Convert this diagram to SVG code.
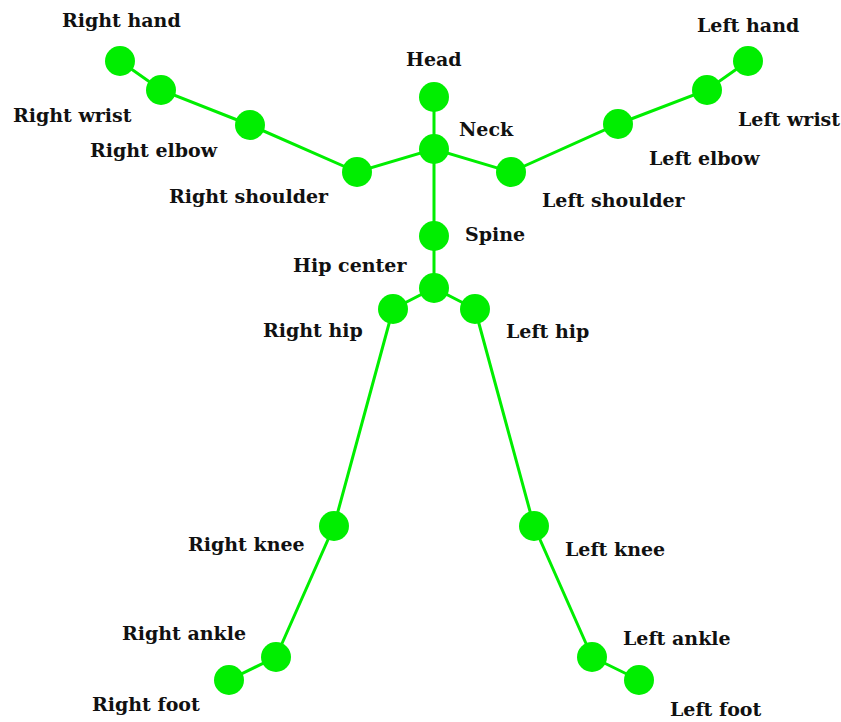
<svg xmlns="http://www.w3.org/2000/svg" width="841" height="722" viewBox="0 0 841 722">
  <style>
    .bone { stroke: #00ee00; stroke-width: 3; fill: none; stroke-linecap: round; }
    .joint { fill: #00ee00; }
    .label { font-family: "DejaVu Serif", "Liberation Serif", serif; font-weight: bold; font-size: 19px; fill: #111; }
  </style>
  <rect width="841" height="722" fill="#ffffff"/>

  <!-- skeleton bones -->
  <g id="bones">
    <polyline class="bone" points="120,61 161,90 250,125 357,172 434,149 511,172 618,124 707,90 748,61"/>
    <line class="bone" x1="434" y1="97" x2="434" y2="288"/>
    <polyline class="bone" points="393,309 434,288 475,309"/>
    <polyline class="bone" points="393,309 334,526 276,657 229,680"/>
    <polyline class="bone" points="475,309 534,526 592,657 639,680"/>
  </g>

  <!-- joints -->
  <g id="head"><circle class="joint" cx="434" cy="97" r="15"/><text class="label" x="406" y="66">Head</text></g>
  <g id="neck"><circle class="joint" cx="434" cy="149" r="15"/><text class="label" x="459" y="136">Neck</text></g>
  <g id="spine"><circle class="joint" cx="434" cy="236" r="15"/><text class="label" x="465" y="241">Spine</text></g>
  <g id="hip-center"><circle class="joint" cx="434" cy="288" r="15"/><text class="label" x="293" y="272">Hip center</text></g>

  <g id="right-hand"><circle class="joint" cx="120" cy="61" r="15"/><text class="label" x="62" y="27">Right hand</text></g>
  <g id="right-wrist"><circle class="joint" cx="161" cy="90" r="15"/><text class="label" x="13" y="122">Right wrist</text></g>
  <g id="right-elbow"><circle class="joint" cx="250" cy="125" r="15"/><text class="label" x="90" y="157">Right elbow</text></g>
  <g id="right-shoulder"><circle class="joint" cx="357" cy="172" r="15"/><text class="label" x="169" y="203">Right shoulder</text></g>

  <g id="left-hand"><circle class="joint" cx="748" cy="61" r="15"/><text class="label" x="697" y="32">Left hand</text></g>
  <g id="left-wrist"><circle class="joint" cx="707" cy="90" r="15"/><text class="label" x="738" y="126">Left wrist</text></g>
  <g id="left-elbow"><circle class="joint" cx="618" cy="124" r="15"/><text class="label" x="649" y="165">Left elbow</text></g>
  <g id="left-shoulder"><circle class="joint" cx="511" cy="172" r="15"/><text class="label" x="542" y="207">Left shoulder</text></g>

  <g id="right-hip"><circle class="joint" cx="393" cy="309" r="15"/><text class="label" x="263" y="337">Right hip</text></g>
  <g id="right-knee"><circle class="joint" cx="334" cy="526" r="15"/><text class="label" x="188" y="551">Right knee</text></g>
  <g id="right-ankle"><circle class="joint" cx="276" cy="657" r="15"/><text class="label" x="122" y="640">Right ankle</text></g>
  <g id="right-foot"><circle class="joint" cx="229" cy="680" r="15"/><text class="label" x="92" y="711">Right foot</text></g>

  <g id="left-hip"><circle class="joint" cx="475" cy="309" r="15"/><text class="label" x="506" y="338">Left hip</text></g>
  <g id="left-knee"><circle class="joint" cx="534" cy="526" r="15"/><text class="label" x="565" y="556">Left knee</text></g>
  <g id="left-ankle"><circle class="joint" cx="592" cy="657" r="15"/><text class="label" x="623" y="645">Left ankle</text></g>
  <g id="left-foot"><circle class="joint" cx="639" cy="680" r="15"/><text class="label" x="670" y="716">Left foot</text></g>
</svg>
